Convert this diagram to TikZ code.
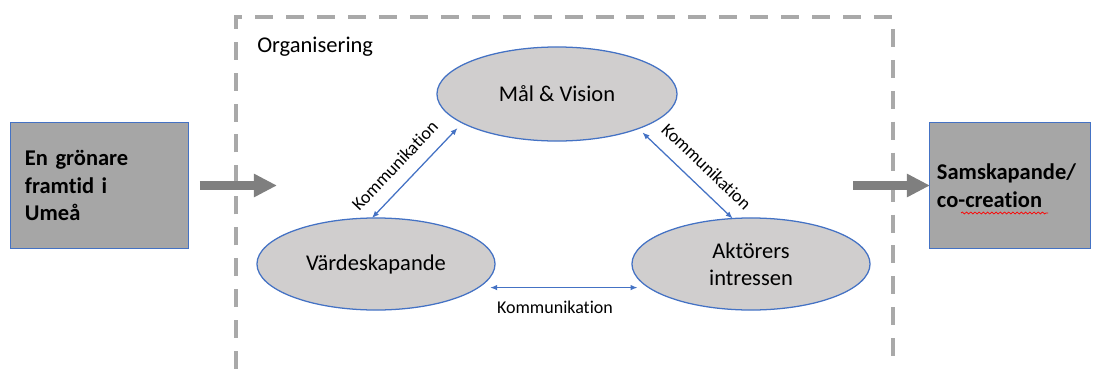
\documentclass[tikz,border=0pt]{standalone}
\usepackage{fontspec}
\setmainfont[Ligatures=NoCommon]{Carlito}
\usetikzlibrary{arrows.meta,shapes.geometric,decorations.pathmorphing}
\definecolor{boxgray}{HTML}{A6A6A6}
\definecolor{ellgray}{HTML}{D0CECE}
\definecolor{edgeblue}{HTML}{4472C4}
\definecolor{dashgray}{HTML}{A9A9A9}
\definecolor{arrowgray}{HTML}{7F7F7F}

\begin{document}
\begin{tikzpicture}[x=0.025cm,y=-0.025cm,
        goal/.style={ellipse,draw=edgeblue,line width=0.9pt,fill=ellgray,
            minimum width=5.95cm,minimum height=2.3cm,inner sep=0pt,outer sep=0pt,
            font=\fontsize{16}{19}\selectfont,align=center},
        sidebox/.style={rectangle,draw=edgeblue,line width=0.7pt,fill=boxgray,
            minimum height=3.125cm,inner ysep=0pt,outer sep=0pt,
            font=\fontsize{16}{19.5}\selectfont\bfseries,align=left},
        flow/.style={arrowgray,line width=5.7pt,-{Triangle[length=16.4pt,width=15.6pt]}},
        talk/.style={edgeblue,line width=0.9pt,
            {Latex[length=5pt,width=4pt]}-{Latex[length=5pt,width=4pt]}},
        talklabel/.style={text=black,font=\fontsize{12.8}{15}\selectfont,inner sep=2pt}]
    \useasboundingbox (0,0) rectangle (1094,369);
    \draw[dashgray,line width=2.3pt,dash pattern=on 12.8pt off 9.2pt]
        (236,369) -- (236,17) -- (893,17) -- (893,369);
    \node[font=\fontsize{16}{19}\selectfont,anchor=base west,inner sep=0pt] (org) at (257,52) {Organisering};

    \node[goal,minimum width=6cm,minimum height=2.35cm] (mal) at (557,94) {Mål \& Vision};
    \node[goal] (vardes) at (376,264) {Värdeskapande};
    \node[goal] (aktorer) at (751,264) {Aktörers\\intressen};

    \node[sidebox,text width=3.725cm,inner xsep=0.35cm] (framtid) at (99.5,185.5) {En grönare\\framtid i\\Umeå};
    \node[sidebox,text width=3.65cm,inner xsep=0.175cm] (samskap) at (1010,185.5) {Samskapande/\\co-creation};
    \draw[red,line width=0.5pt,decorate,decoration={snake,amplitude=0.7pt,segment length=3pt}]
        (961,213) -- (1048,213);

    \coordinate (in) at (277,185.5);
    \coordinate (out) at (853,185.5);
    \draw[flow,shorten <=8.5pt] (framtid.east) -- (in);
    \draw[flow] (out) -- (samskap.west);

    \draw[talk,shorten >=5pt] (vardes.95) -- node[talklabel,sloped,above=7pt,pos=0.41] {Kommunikation} (mal.197);
    \draw[talk,shorten <=4pt] (mal.337) -- node[talklabel,sloped,above=7pt,pos=0.58] {Kommunikation} (aktorer.112);
    \draw[talk,shorten <=8.5pt,shorten >=8pt] (vardes.347) -- node[talklabel,below=7pt,pos=0.45] {Kommunikation} (aktorer.193);
\end{tikzpicture}
\end{document}
